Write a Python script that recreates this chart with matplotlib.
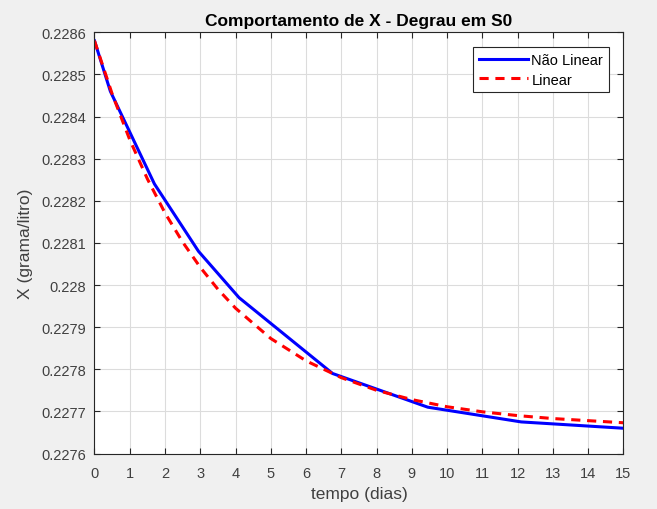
import numpy as np
import matplotlib.pyplot as plt

plt.rcParams['font.family'] = ['Liberation Sans', 'DejaVu Sans']

# Resposta do modelo não linear (saída do integrador)
t_nl = [0, 0.45, 1.7, 2.95, 4.1, 6.75, 9.45, 12.1, 15]
x_nl = [0.22858, 0.22846, 0.22824, 0.22808, 0.22797, 0.22779, 0.22771, 0.227675, 0.22766]

# Resposta do modelo linearizado
t_lin = [0, 0.5, 1, 1.5, 2, 2.5, 3, 3.5, 4, 5, 6, 7, 8, 9, 10, 11, 12, 13, 14, 15]
x_lin = [0.228580, 0.228454, 0.228345, 0.228252, 0.228171, 0.228102, 0.228042,
         0.227990, 0.227945, 0.227873, 0.227820, 0.227780, 0.227750, 0.227728,
         0.227711, 0.227699, 0.227690, 0.227683, 0.227678, 0.227673]

xticks = list(range(0, 16))
yticks = [0.2276, 0.2277, 0.2278, 0.2279, 0.2280, 0.2281, 0.2282, 0.2283, 0.2284, 0.2285, 0.2286]

fig = plt.figure(figsize=(6.57, 5.10), dpi=100, facecolor='#f0f0f0')
ax = fig.add_axes([0.1438, 0.1088, 0.8052, 0.8259])
ax.set_facecolor('white')

ax.plot(t_nl, x_nl, color='blue', linewidth=2.2, label='Não Linear')
ax.plot(t_lin, x_lin, color='red', linewidth=2.2, linestyle=(0, (3, 2.2)), label='Linear')

ax.set_xlim(0, 15)
ax.set_ylim(0.2276, 0.2286)
ax.set_xticks(xticks)
ax.set_yticks(yticks)
ax.set_yticklabels(['%g' % v for v in yticks])
ax.grid(True, color='#dcdcdc', linewidth=0.8)
ax.set_axisbelow(True)

dark = '#262626'
for s in ax.spines.values():
    s.set_color(dark)
    s.set_linewidth(0.8)
ax.tick_params(direction='in', top=True, right=True, length=4, width=0.8,
               colors=dark, labelsize=10.5, labelcolor='#404040')
ax.tick_params(axis='x', pad=9)
ax.tick_params(axis='y', pad=6)

ax.set_title('Comportamento de X - Degrau em S0', fontsize=12.5, fontweight='bold',
             color='black', pad=5.5)
ax.set_xlabel('tempo (dias)', fontsize=12.5, color='#404040', labelpad=4)
ax.set_ylabel('X (grama/litro)', fontsize=12.5, color='#404040', labelpad=6)

leg = ax.legend(loc='upper right', fontsize=10.5, fancybox=False, framealpha=1,
                edgecolor=dark, borderaxespad=1.0, handlelength=3.4,
                handletextpad=0.2, borderpad=0.4, labelspacing=0.4)
leg.get_frame().set_linewidth(0.8)

fig.savefig('out.png', dpi=100, facecolor=fig.get_facecolor())
